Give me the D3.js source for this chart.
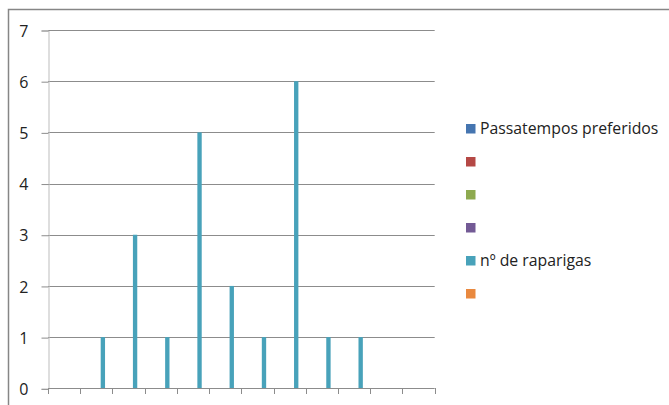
<!DOCTYPE html>
<html>
<head>
<meta charset="utf-8">
<script src="https://cdn.jsdelivr.net/npm/d3@7"></script>
<style>
  html, body { margin: 0; padding: 0; background: #fff; }
  svg { display: block; font-family: "Open Sans", "Noto Sans", sans-serif; }
</style>
</head>
<body>
<svg id="chart" width="669" height="405"></svg>
<script>
// Twelve category slots (no category names are shown on the axis)
const categories = ["c1", "c2", "c3", "c4", "c5", "c6", "c7", "c8", "c9", "c10", "c11", "c12"];
const seriesNames = ["Passatempos preferidos", "", "", "", "nº de raparigas", ""];
const seriesColors = ["#4575b0", "#b54845", "#8eaa4f", "#735a95", "#48a2ba", "#e9893f"];
const passatempos = [null, null, null, null, null, null, null, null, null, null, null, null];
const serie2 = [null, null, null, null, null, null, null, null, null, null, null, null];
const serie3 = [null, null, null, null, null, null, null, null, null, null, null, null];
const serie4 = [null, null, null, null, null, null, null, null, null, null, null, null];
const raparigas = [null, 1, 3, 1, 5, 2, 1, 6, 1, 1, null, null];
const serie6 = [null, null, null, null, null, null, null, null, null, null, null, null];
const yTicks = [0, 1, 2, 3, 4, 5, 6, 7];

const seriesValues = [passatempos, serie2, serie3, serie4, raparigas, serie6];

const svg = d3.select("#chart");

// outer chart frame
svg.append("rect")
  .attr("x", 8.5).attr("y", 9.5)
  .attr("width", 700).attr("height", 420)
  .attr("fill", "none").attr("stroke", "#868686").attr("stroke-width", 1.5);

const plot = { left: 48, right: 434.7, top: 30, bottom: 388.3 };

const x = d3.scaleBand().domain(categories).range([plot.left, plot.right]).paddingInner(0).paddingOuter(0);
const y = d3.scaleLinear().domain([0, 7]).range([plot.bottom, plot.top]);

// inner band holding the six series bars of each category
const groupWidth = x.bandwidth() * 0.81;
const xs = d3.scaleBand().domain(d3.range(seriesNames.length))
  .range([(x.bandwidth() - groupWidth) / 2, (x.bandwidth() + groupWidth) / 2]);

// horizontal gridlines
svg.append("g")
  .selectAll("line")
  .data(yTicks.filter(d => d > 0))
  .join("line")
  .attr("x1", plot.left).attr("x2", plot.right)
  .attr("y1", d => Math.round(y(d)) + 0.5).attr("y2", d => Math.round(y(d)) + 0.5)
  .attr("stroke", "#8c8c8c").attr("stroke-width", 1);

// y axis
const yAxis = d3.axisLeft(y).tickValues(yTicks).tickSize(7).tickPadding(13).tickFormat(d3.format("d"));
const gy = svg.append("g").attr("transform", `translate(${plot.left + 0.5},0.5)`).call(yAxis);
gy.select(".domain").attr("stroke", "#bdbdbd");
gy.selectAll(".tick line").attr("stroke", "#8c8c8c");
gy.selectAll(".tick text").attr("font-size", 16).attr("fill", "#222")
  .attr("font-family", "'Open Sans', sans-serif").attr("dy", "0.35em");

// bars
const groups = svg.append("g")
  .selectAll("g")
  .data(seriesValues.map((vals, si) => ({ si, vals })))
  .join("g")
  .attr("fill", d => seriesColors[d.si]);

groups.selectAll("rect")
  .data(d => d.vals.map((v, i) => ({ si: d.si, v, cat: categories[i] })).filter(e => e.v != null))
  .join("rect")
  .attr("x", d => x(d.cat) + xs(d.si))
  .attr("width", xs.bandwidth())
  .attr("y", d => y(d.v))
  .attr("height", d => y(0) - y(d.v));

// x axis with tick marks between categories
const xTickPos = categories.map(c => x(c)).concat([plot.right]);
const gx = svg.append("g");
gx.append("line")
  .attr("x1", plot.left).attr("x2", plot.right)
  .attr("y1", Math.round(y(0)) + 0.5).attr("y2", Math.round(y(0)) + 0.5)
  .attr("stroke", "#8c8c8c");
gx.selectAll("line.tick")
  .data(xTickPos)
  .join("line")
  .attr("class", "tick")
  .attr("x1", d => Math.round(d) + 0.5).attr("x2", d => Math.round(d) + 0.5)
  .attr("y1", Math.round(y(0))).attr("y2", Math.round(y(0)) + 6)
  .attr("stroke", "#8c8c8c");

// legend
const legend = svg.append("g").attr("transform", "translate(466,0)");
const rows = legend.selectAll("g")
  .data(seriesNames.map((name, i) => ({ name, i })))
  .join("g")
  .attr("transform", d => `translate(0,${128.5 + d.i * 33})`);
rows.append("rect")
  .attr("x", 0).attr("y", -4.5).attr("width", 9.5).attr("height", 9.5)
  .attr("fill", d => seriesColors[d.i]);
rows.append("text")
  .attr("x", 14).attr("y", 0).attr("dy", "0.35em")
  .attr("font-size", 15.8).attr("fill", "#222")
  .text(d => d.name);
</script>
</body>
</html>
